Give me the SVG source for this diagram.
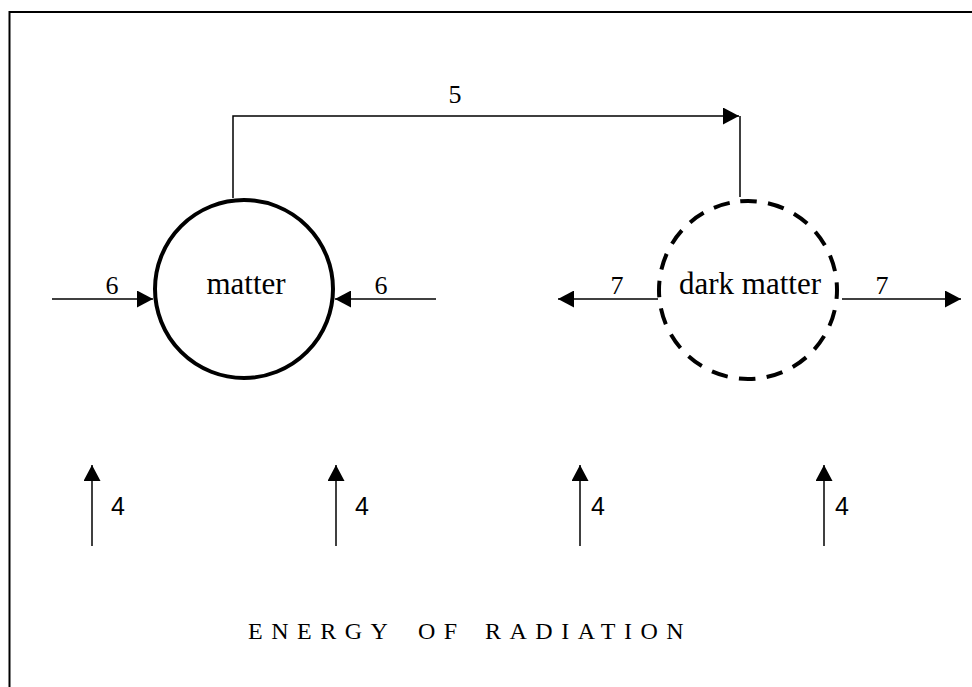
<svg xmlns="http://www.w3.org/2000/svg" width="972" height="687" viewBox="0 0 972 687">
<style>
.serif{font-family:"Liberation Serif","Times New Roman",serif;fill:#000}
.sans{font-family:"Liberation Sans",Arial,sans-serif;fill:#000}
.conn{stroke:#000;stroke-width:1.5;fill:none}
</style>
<defs>
<marker id="ah" viewBox="0 0 16 17" refX="16" refY="8.5" markerWidth="16" markerHeight="17" markerUnits="userSpaceOnUse" orient="auto">
<path d="M0,0 L16,8.5 L0,17 Z" fill="#000"/>
</marker>
</defs>
<rect width="972" height="687" fill="#fff"/>
<path d="M9.5,700 V12 H980" fill="none" stroke="#000" stroke-width="2"/>
<g id="matter">
<circle cx="244" cy="289" r="89" fill="none" stroke="#000" stroke-width="4"/>
<text class="serif" x="246" y="294" font-size="31" text-anchor="middle">matter</text>
</g>
<g id="dark-matter">
<circle cx="748" cy="290" r="89" fill="none" stroke="#000" stroke-width="4" stroke-dasharray="16.5 11.45" transform="rotate(-95 748 290)"/>
<text class="serif" x="750" y="294" font-size="31" text-anchor="middle">dark matter</text>
</g>
<g id="connectors">
<path class="conn" d="M233,198 V116 H739" marker-end="url(#ah)"/>
<path class="conn" d="M740,116 V197"/>
<path class="conn" d="M52,299 H153" marker-end="url(#ah)"/>
<path class="conn" d="M436,299 H335" marker-end="url(#ah)"/>
<path class="conn" d="M658,299 H558" marker-end="url(#ah)"/>
<path class="conn" d="M842,299 H961" marker-end="url(#ah)"/>
<path class="conn" d="M92,546 V465" marker-end="url(#ah)"/>
<path class="conn" d="M336,546 V465" marker-end="url(#ah)"/>
<path class="conn" d="M580,546 V465" marker-end="url(#ah)"/>
<path class="conn" d="M824,546 V465" marker-end="url(#ah)"/>
</g>
<g id="labels">
<text class="serif" x="455" y="103" font-size="26" text-anchor="middle">5</text>
<text class="serif" x="112" y="294" font-size="26" text-anchor="middle">6</text>
<text class="serif" x="381" y="294" font-size="26" text-anchor="middle">6</text>
<text class="serif" x="617" y="294" font-size="26" text-anchor="middle">7</text>
<text class="serif" x="882" y="294" font-size="26" text-anchor="middle">7</text>
<text class="sans" x="111" y="515" font-size="25">4</text>
<text class="sans" x="355" y="515" font-size="25">4</text>
<text class="sans" x="591" y="515" font-size="25">4</text>
<text class="sans" x="835" y="515" font-size="25">4</text>
<text class="serif" y="639" font-size="24" letter-spacing="8.5"><tspan x="248">ENERGY</tspan><tspan x="418">OF</tspan><tspan x="485">RADIATION</tspan></text>
</g>
</svg>
